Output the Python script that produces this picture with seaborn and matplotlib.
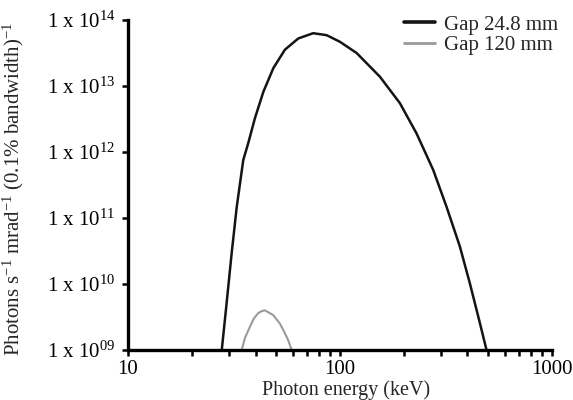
#!/usr/bin/env python3

import matplotlib

matplotlib.use("Agg")
import matplotlib.pyplot as plt
import numpy as np
import pandas as pd
import seaborn as sns
from matplotlib.ticker import FixedLocator, LogLocator, NullFormatter

# spectral flux (energy in keV, log10 of flux)
GAP_SMALL_E = [27.7, 29.2, 30.85, 32.6, 35.0, 36.9, 39.7, 43.5, 48.5, 55.0,
               63.6, 74.8, 86.6, 100, 119.9, 154.5, 191.9, 230.1, 275.5,
               318.6, 368.1, 410.5, 457.6, 492.0]
GAP_SMALL_LOGF = [9.0, 9.71, 10.47, 11.17, 11.88, 12.13, 12.51, 12.91, 13.27,
                  13.55, 13.72, 13.80, 13.77, 13.67, 13.50, 13.14, 12.74,
                  12.28, 11.73, 11.17, 10.57, 10.01, 9.41, 9.0]
GAP_LARGE_E = [34.4, 35.6, 37.6, 39.3, 41.2, 42.8, 44.3, 48.4, 52.1, 54.1,
               57.0, 59.2]
GAP_LARGE_LOGF = [9.0, 9.18, 9.35, 9.48, 9.56, 9.59, 9.60, 9.53, 9.40, 9.30,
                  9.15, 9.0]
SERIES = ["Gap 24.8 mm", "Gap 120 mm"]
COLOURS = ["#141414", "#9a9a9a"]
Y_TICKS = [1e9, 1e10, 1e11, 1e12, 1e13, 1e14]
Y_TICK_LABELS = ["1 x 10$^{09}$", "1 x 10$^{10}$", "1 x 10$^{11}$",
                 "1 x 10$^{12}$", "1 x 10$^{13}$", "1 x 10$^{14}$"]

sns.set_style("ticks")
plt.rcParams["font.family"] = ["Liberation Serif", "DejaVu Serif"]
plt.rcParams["mathtext.fontset"] = "custom"
plt.rcParams["mathtext.rm"] = "Liberation Serif"
plt.rcParams["mathtext.it"] = "Liberation Serif:italic"

df = pd.concat([
    pd.DataFrame({"energy": GAP_SMALL_E,
                  "flux": 10 ** np.array(GAP_SMALL_LOGF),
                  "gap": SERIES[0]}),
    pd.DataFrame({"energy": GAP_LARGE_E,
                  "flux": 10 ** np.array(GAP_LARGE_LOGF),
                  "gap": SERIES[1]}),
])

fig = plt.figure(figsize=(5.73, 4.0), dpi=100)
ax = fig.add_axes([0.2234, 0.125, 0.7396, 0.825])

sns.lineplot(
    data=df, x="energy", y="flux", hue="gap", hue_order=SERIES,
    palette=COLOURS, estimator=None, sort=False, linewidth=1.8, ax=ax,
)
for line in ax.get_lines():
    line.set_solid_joinstyle("round")
ax.get_lines()[1].set_linewidth(1.5)

ax.set_xscale("log")
ax.set_yscale("log")
ax.set_xlim(10, 1000)
ax.set_ylim(1e9, 1e14)

ax.xaxis.set_major_locator(FixedLocator([10, 100, 1000]))
ax.set_xticklabels(["10", "100", "1000"])
ax.xaxis.set_minor_locator(LogLocator(base=10, subs=np.arange(2, 10)))
ax.xaxis.set_minor_formatter(NullFormatter())
ax.yaxis.set_major_locator(FixedLocator(Y_TICKS))
ax.set_yticklabels(Y_TICK_LABELS)
ax.yaxis.set_minor_locator(FixedLocator([]))

ax.tick_params(axis="both", which="both", direction="out", width=1.8,
               length=4, labelsize=15, colors="black")
ax.tick_params(axis="x", pad=3)
ax.tick_params(axis="y", pad=5)

for side in ["top", "right"]:
    ax.spines[side].set_visible(False)
for side in ["left", "bottom"]:
    ax.spines[side].set_linewidth(2.4)
    ax.spines[side].set_color("black")

ax.set_xlabel("Photon energy (keV)", fontsize=14.5)
ax.xaxis.set_label_coords(0.514, -0.092)
ax.set_ylabel("Photons s$^{-1}$ mrad$^{-1}$ (0.1% bandwidth)$^{-1}$",
              fontsize=15)
ax.yaxis.set_label_coords(-0.24, 0.489)

leg = ax.legend(loc="upper right", bbox_to_anchor=(1.015, 1.015),
                frameon=False, fontsize=15, handlelength=1.45,
                handletextpad=0.45, labelspacing=0.05, borderaxespad=0,
                borderpad=0)
for line, lw in zip(leg.get_lines(), [2.6, 2.0]):
    line.set_linewidth(lw)

fig.savefig("out.png", dpi=100)
